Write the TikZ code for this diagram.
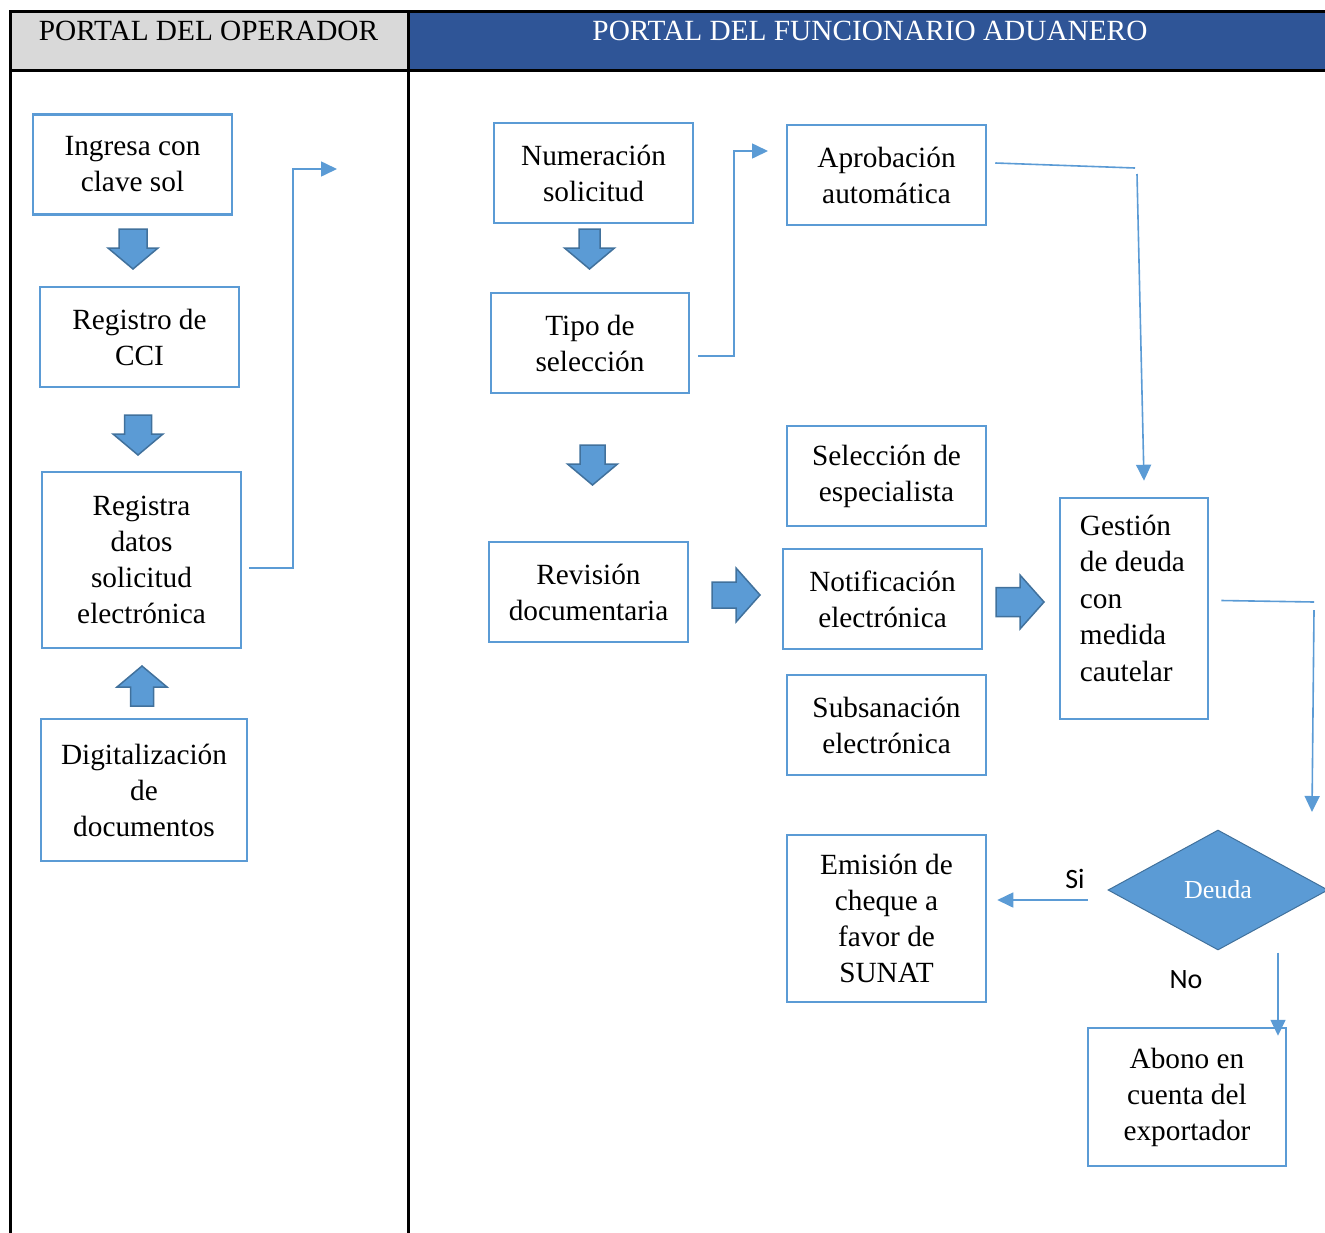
\documentclass[tikz,border=0pt]{standalone}
\usepackage{fontspec}
\setmainfont{Liberation Serif}
\newfontfamily\calibri{Carlito}
\usetikzlibrary{arrows.meta, shapes.geometric, positioning}

\definecolor{azulcaja}{HTML}{5B9BD5}
\definecolor{azulborde}{HTML}{41719C}
\definecolor{azulencab}{HTML}{2F5597}
\definecolor{grisencab}{HTML}{D9D9D9}

\tikzset{
  paso/.style={draw=azulcaja, line width=2.5pt, fill=white, minimum width=199pt, minimum height=100pt, inner sep=0pt, align=center, font=\fontsize{29.3pt}{36pt}\selectfont},
  conector/.style={draw=azulcaja, line width=1.6pt},
  punta/.style={-{Triangle[length=16pt,width=15pt]}},
  bloque/.style={fill=azulcaja, draw=azulborde, line width=1.5pt},
  tabla/.style={line width=3pt, black},
  encab/.style={font=\fontsize{29.3pt}{36pt}\selectfont, anchor=base},
  etiqueta/.style={font=\calibri\fontsize{28pt}{32pt}\selectfont},
  baja/.pic={\filldraw[bloque] (-#1,0) -- (#1,0) -- (#1,19) -- (25,19) -- (0,40) -- (-25,19) -- (-#1,19) -- cycle;},
  der/.pic={\filldraw[bloque] (0,-#1) -- (24,-#1) -- (24,-27) -- (48,0) -- (24,27) -- (24,#1) -- (0,#1) -- cycle;}
}

\begin{document}
\begin{tikzpicture}[x=1pt, y=-1pt]
\useasboundingbox (0,0) rectangle (1325,1232);
\clip (0,0) rectangle (1325,1232);

% encabezado de la tabla
\fill[grisencab] (10,11) rectangle (408,70);
\fill[azulencab] (408,11) rectangle (1330,70);
\draw[tabla] (10,1240) -- (10,11) -- (1330,11);
\draw[tabla] (10,70) -- (1330,70);
\draw[tabla] (408,11) -- (408,1240);
\node[encab] (operador) at (208.5,40) {PORTAL DEL OPERADOR};
\node[encab, text=white] (funcionario) at (870,40) {PORTAL DEL FUNCIONARIO ADUANERO};

% portal del operador
\node[paso] (ingresa) at (132.5,164.5) {Ingresa con\\clave sol};
\node[paso] (registro) at (139.5,337) {Registro de\\CCI};
\node[paso, minimum height=176pt] (registra) at (141.5,560) {Registra\\datos\\solicitud\\electrónica};
\node[paso, minimum width=206pt, minimum height=142pt] (digital) at (144,790) {Digitalización\\de\\documentos};
\pic at (133,229) {baja=14};
\pic at (138,415) {baja=13.5};
\pic[rotate=180] at (142,706) {baja=11.5};

% portal del funcionario aduanero
\node[paso] (numeracion) at (593.5,173) {Numeración\\solicitud};
\node[paso, minimum width=198pt] (tipo) at (590,343) {Tipo de\\selección};
\node[paso] (aprobacion) at (886.5,175) {Aprobación\\automática};
\node[paso] (seleccion) at (886.5,476) {Selección de\\especialista};
\node[paso] (revision) at (588.5,592) {Revisión\\documentaria};
\node[paso] (notificacion) at (882.5,599) {Notificación\\electrónica};
\node[paso] (subsanacion) at (886.5,725) {Subsanación\\electrónica};
\node[paso, minimum width=148pt, minimum height=221pt] (gestion) at (1134,608.5) {};
\node[anchor=north west, align=left, inner sep=0pt, font=\fontsize{29.3pt}{36.5pt}\selectfont] (gestiontxt) at ([xshift=21pt,yshift=-18pt]gestion.north west) {Gestión\\de deuda\\con\\medida\\cautelar};
\node[paso, minimum height=167pt] (emision) at (886.5,918.5) {Emisión de\\cheque a\\favor de\\SUNAT};
\node[paso, minimum width=198pt, minimum height=138pt] (abono) at (1187,1097) {Abono en\\cuenta del\\exportador};
\node[diamond, minimum width=220pt, minimum height=120pt, inner sep=0pt, fill=azulcaja, draw=azulborde, line width=1pt, text=white, font=\fontsize{26pt}{30pt}\selectfont] (deuda) at (1218,890) {Deuda};
\pic at (589.5,229) {baja=10.5};
\pic at (592.5,445) {baja=12.5};
\pic at (712,595) {der=13};
\pic at (996,602) {der=14.5};

% enlaces
\coordinate (codoA) at (293,169);
\coordinate (finA) at (337,169);
\draw[conector, punta] ([xshift=7pt,yshift=-8pt]registra.east) -| (codoA) -- (finA);

\coordinate (codoB) at (734,151);
\coordinate (finB) at (768,151);
\draw[conector, punta] ([xshift=8pt,yshift=-13pt]tipo.east) -| (codoB) -- (finB);

\coordinate (codoC) at (1135,168);
\coordinate (codoC2) at (1137,174);
\draw[conector] ([xshift=8pt,yshift=12pt]aprobacion.east) -- (codoC);
\draw[conector, punta] (codoC2) -- ([xshift=10pt,yshift=16pt]gestion.north);

\coordinate (codoD) at (1314,602);
\coordinate (codoD2) at (1314,610);
\coordinate (finD) at (1312,812);
\draw[conector] ([xshift=12pt,yshift=8pt]gestion.east) -- (codoD);
\draw[conector, punta] (codoD2) -- (finD);

\draw[conector, punta] ([xshift=-20pt,yshift=-10pt]deuda.west) -- ([xshift=10pt,yshift=18.5pt]emision.east);
\draw[conector, punta] ([xshift=60pt,yshift=-2pt]deuda.south) -- ([xshift=91pt,yshift=-9pt]abono.north);
\node[etiqueta] (si) at (1075,879) {Si};
\node[etiqueta] (no) at (1186,980) {No};
\end{tikzpicture}
\end{document}
